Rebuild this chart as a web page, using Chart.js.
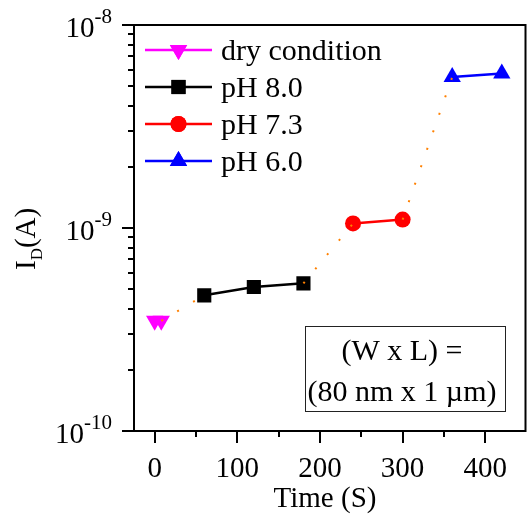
<!DOCTYPE html>
<html><head><meta charset="utf-8">
<script src="https://cdn.jsdelivr.net/npm/chart.js@4.4.0/dist/chart.umd.min.js"></script>
<style>html,body{margin:0;padding:0;background:#fff}</style>
</head><body>
<canvas id="c" width="527" height="516" style="width:527px;height:516px;display:block"></canvas>
<script>
// ---- data ----
const seriesNames = ['dry condition', 'pH 8.0', 'pH 7.3', 'pH 6.0'];
const timeDry = [0, 8];
const currentDry = [3.49e-10, 3.49e-10];
const timePH80 = [60, 120, 180];
const currentPH80 = [4.66e-10, 5.12e-10, 5.34e-10];
const timePH73 = [240, 300];
const currentPH73 = [1.053e-9, 1.10e-9];
const timePH60 = [360, 420];
const currentPH60 = [5.54e-9, 5.77e-9];

const xTickValues = [0, 100, 200, 300, 400];
const xTickLabels = ['0', '100', '200', '300', '400'];
const xMinorTickValues = [50, 150, 250, 350];
const yTickValues = [1e-10, 1e-9, 1e-8];
const yTickBase = '10';
const yTickExponents = ['-10', '-9', '-8'];
const yMinorTickValues = [2e-10,3e-10,4e-10,5e-10,6e-10,7e-10,8e-10,9e-10,2e-9,3e-9,4e-9,5e-9,6e-9,7e-9,8e-9,9e-9];
const xAxisTitle = 'Time (S)';
const yAxisTitleMain = 'I', yAxisTitleSub = 'D', yAxisTitleRest = '(A)';
const boxLines = ['(W x L) =', '(80 nm x 1 \u00b5m)'];

// ---- build datasets ----
const pts = (xs, ys) => xs.map((x, i) => ({x: x, y: ys[i]}));
const groupsX = [timeDry, timePH80, timePH73, timePH60];
const groupsY = [currentDry, currentPH80, currentPH73, currentPH60];
const trend = [];
for (let g = 0; g < groupsX.length - 1; g++) {
  const xa = groupsX[g], ya = groupsY[g], xb = groupsX[g + 1], yb = groupsY[g + 1];
  if (g > 0) trend.push({x: xa[xa.length - 1] - 1, y: null});
  trend.push({x: xa[xa.length - 1], y: ya[ya.length - 1]});
  trend.push({x: xb[0], y: yb[0]});
}

const FONT = '"Liberation Serif", "Times New Roman", serif';
const seriesStyle = [
  {color: '#ff00ff', pointStyle: 'triangle', rotation: 180, radius: 10},
  {color: '#000000', pointStyle: 'rect', rotation: 0, radius: 10},
  {color: '#ff0000', pointStyle: 'circle', rotation: 0, radius: 8},
  {color: '#0000ff', pointStyle: 'triangle', rotation: 0, radius: 10}
];

const datasets = groupsX.map((xs, i) => ({
  label: seriesNames[i],
  data: pts(xs, groupsY[i]),
  borderColor: seriesStyle[i].color,
  backgroundColor: seriesStyle[i].color,
  borderWidth: 2.5,
  pointStyle: seriesStyle[i].pointStyle,
  rotation: seriesStyle[i].rotation,
  pointRadius: seriesStyle[i].radius,
  pointBorderWidth: 0,
  pointBackgroundColor: seriesStyle[i].color,
  tension: 0
}));
datasets.push({
  label: 'trend',
  data: trend,
  borderColor: '#ff8000',
  borderWidth: 2,
  borderDash: [2, 16.5],
  pointRadius: 0,
  spanGaps: false,
  order: -1,
  tension: 0
});

const decor = {
  id: 'decor',
  afterDraw(chart) {
    const ctx = chart.ctx, a = chart.chartArea, xs = chart.scales.x, ys = chart.scales.y;
    ctx.save();
    // frame
    ctx.strokeStyle = '#000';
    ctx.lineWidth = 2;
    ctx.strokeRect(a.left, a.top, Math.min(a.right, 525.5) - a.left, a.bottom - a.top);
    // ticks
    ctx.beginPath();
    xTickValues.forEach(v => { const p = Math.round(xs.getPixelForValue(v)); ctx.moveTo(p, a.bottom); ctx.lineTo(p, a.bottom + 12); });
    xMinorTickValues.forEach(v => { const p = Math.round(xs.getPixelForValue(v)); ctx.moveTo(p, a.bottom); ctx.lineTo(p, a.bottom + 6); });
    yTickValues.forEach(v => { const p = Math.round(ys.getPixelForValue(v)); ctx.moveTo(a.left, p); ctx.lineTo(a.left - 12, p); });
    yMinorTickValues.forEach(v => { const p = Math.round(ys.getPixelForValue(v)); ctx.moveTo(a.left, p); ctx.lineTo(a.left - 6, p); });
    ctx.stroke();

    ctx.fillStyle = '#000';
    // x tick labels
    ctx.font = '29px ' + FONT;
    ctx.textAlign = 'center';
    ctx.textBaseline = 'alphabetic';
    xTickValues.forEach((v, i) => ctx.fillText(xTickLabels[i], xs.getPixelForValue(v), 477));
    // y tick labels with superscripts
    yTickValues.forEach((v, i) => {
      const p = ys.getPixelForValue(v);
      ctx.font = '21px ' + FONT;
      const supW = ctx.measureText(yTickExponents[i]).width;
      ctx.textAlign = 'right';
      ctx.fillText(yTickExponents[i], 112, p - 2);
      ctx.font = '29px ' + FONT;
      ctx.fillText(yTickBase, 112 - supW, p + 12);
    });
    // x title
    ctx.font = '29px ' + FONT;
    ctx.textAlign = 'center';
    ctx.fillText(xAxisTitle, 325, 507);
    // y title (rotated)
    ctx.save();
    ctx.translate(35, 270);
    ctx.rotate(-Math.PI / 2);
    ctx.textAlign = 'left';
    ctx.font = '29px ' + FONT;
    ctx.fillText(yAxisTitleMain, 0, 0);
    let off = ctx.measureText(yAxisTitleMain).width;
    ctx.font = '17px ' + FONT;
    ctx.fillText(yAxisTitleSub, off, 7);
    off += ctx.measureText(yAxisTitleSub).width;
    ctx.font = '29px ' + FONT;
    ctx.fillText(yAxisTitleRest, off, 0);
    ctx.restore();

    // legend
    const rows = [50, 87, 124, 161];
    seriesNames.forEach((name, i) => {
      const st = seriesStyle[i], y = rows[i];
      ctx.strokeStyle = st.color;
      ctx.lineWidth = 2.5;
      ctx.beginPath(); ctx.moveTo(145, y); ctx.lineTo(212, y); ctx.stroke();
      ctx.fillStyle = st.color;
      Chart.helpers.drawPoint(ctx, {pointStyle: st.pointStyle, rotation: st.rotation, radius: st.radius, borderWidth: 0}, 178.5, y);
      ctx.fill();
      ctx.fillStyle = '#000';
      ctx.font = '30px ' + FONT;
      ctx.textAlign = 'left';
      ctx.fillText(name, 221, y + 10);
    });

    // annotation box
    ctx.strokeStyle = '#222';
    ctx.lineWidth = 1;
    ctx.strokeRect(305.5, 326.5, 200, 85);
    ctx.fillStyle = '#000';
    ctx.font = '30px ' + FONT;
    ctx.textAlign = 'center';
    ctx.fillText(boxLines[0], 402, 360);
    ctx.fillText(boxLines[1], 402, 401);
    ctx.restore();
  }
};

new Chart(document.getElementById('c'), {
  type: 'line',
  data: {datasets: datasets},
  options: {
    responsive: false,
    animation: false,
    devicePixelRatio: 1,
    layout: {autoPadding: false, padding: {left: 134, right: 0.4, top: 25, bottom: 85}},
    plugins: {legend: {display: false}, tooltip: {enabled: false}},
    scales: {
      x: {type: 'linear', display: false, min: -25, max: 450},
      y: {type: 'logarithmic', display: false, min: 1e-10, max: 1e-8}
    }
  },
  plugins: [decor]
});
</script>
</body></html>
